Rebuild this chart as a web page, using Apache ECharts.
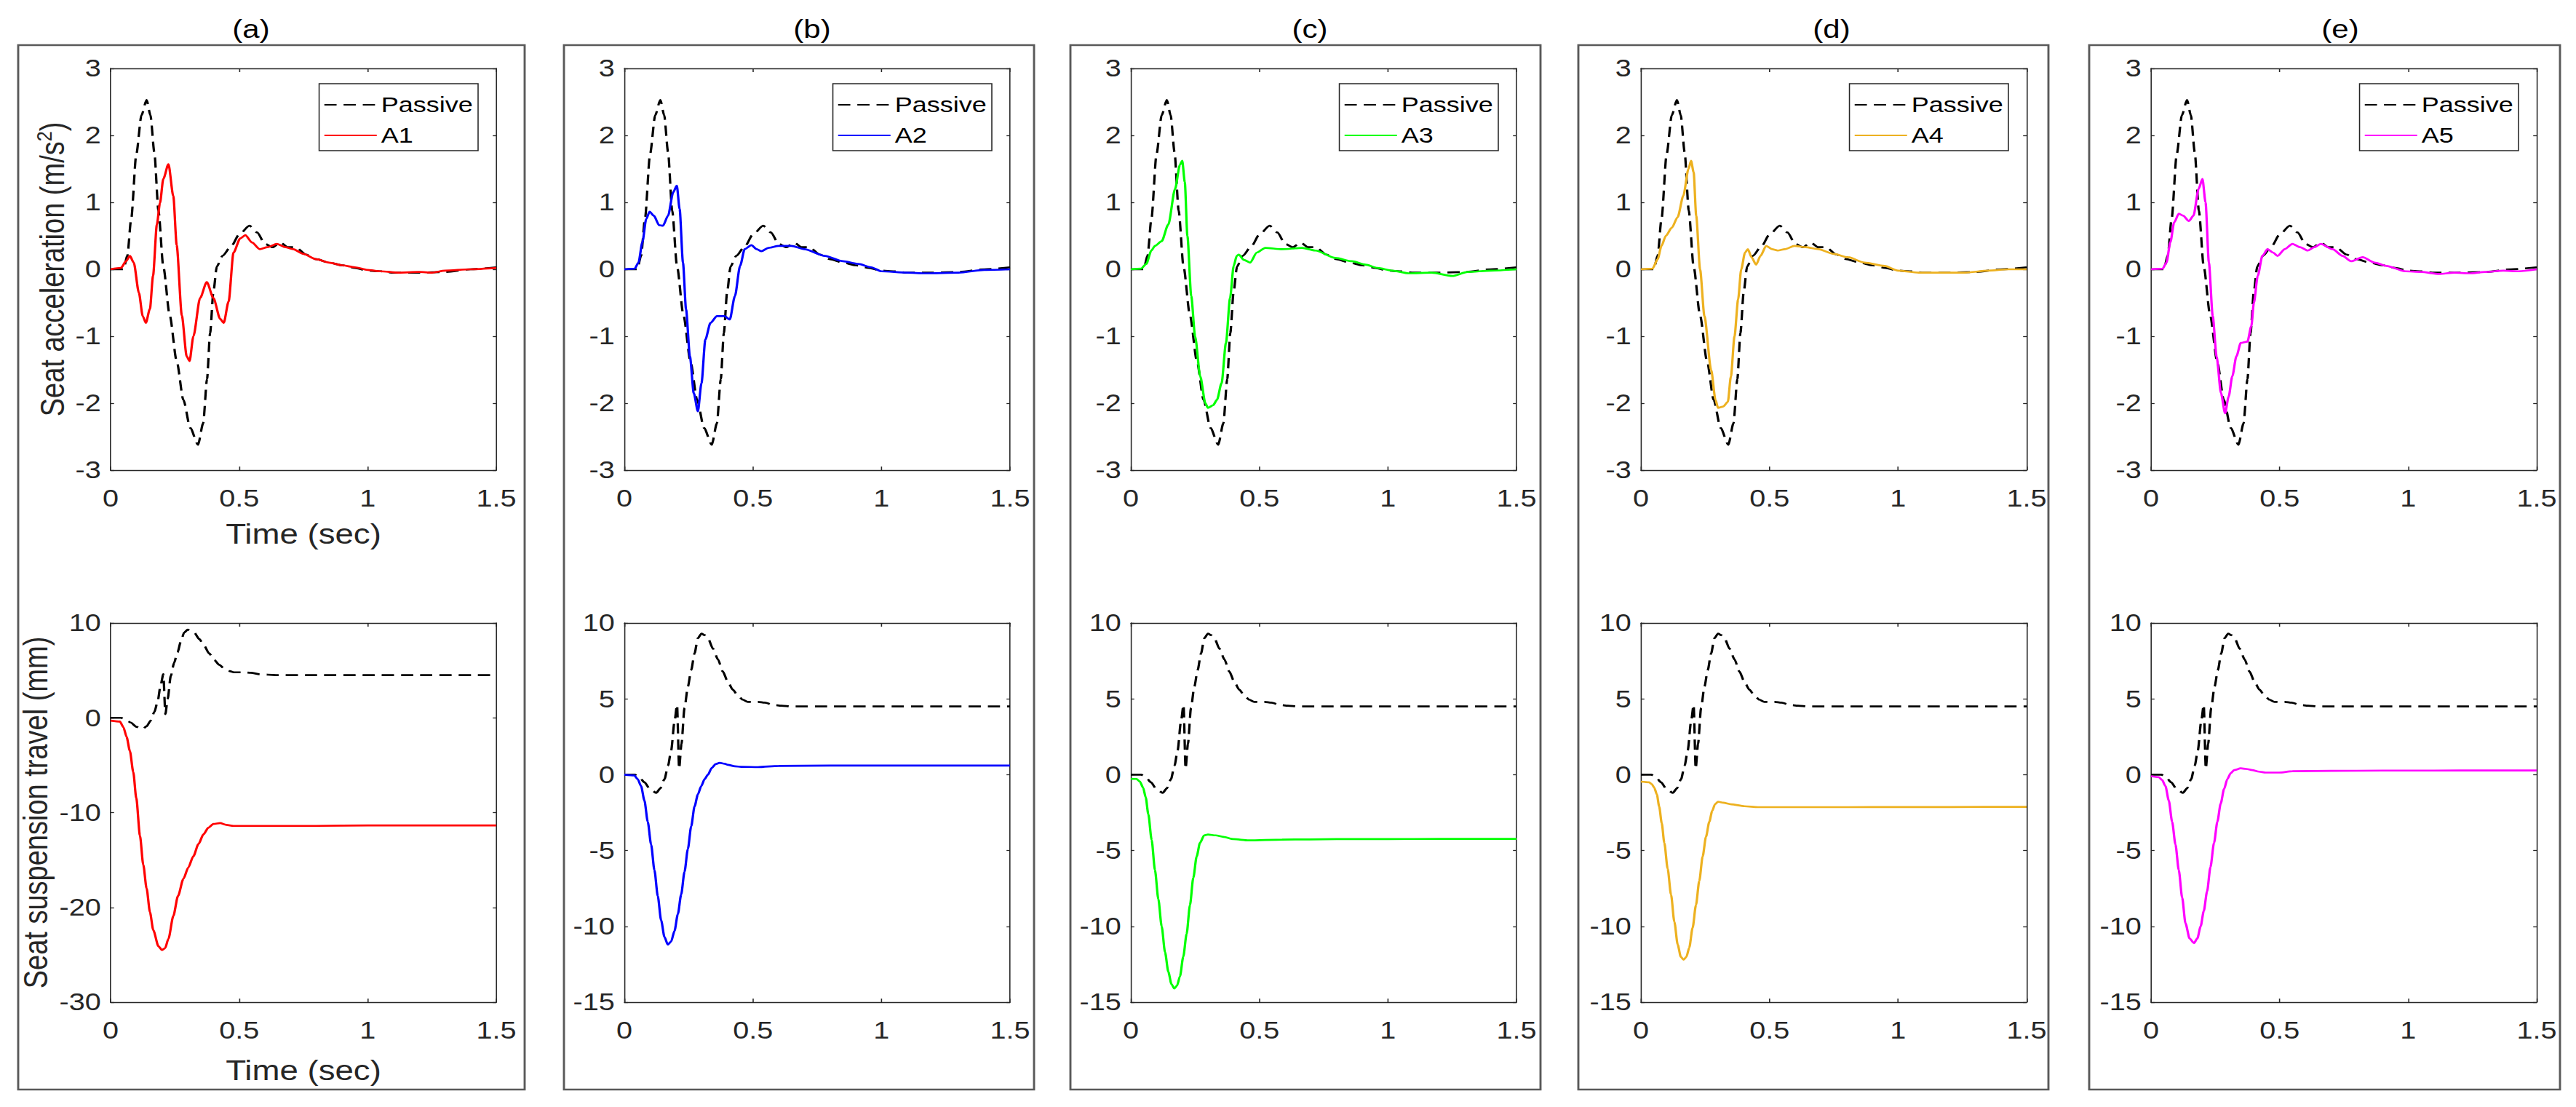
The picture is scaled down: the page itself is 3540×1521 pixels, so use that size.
<!DOCTYPE html>
<html>
<head>
<meta charset="utf-8">
<script src="https://cdn.jsdelivr.net/npm/echarts@6/dist/echarts.min.js"></script>
<style>
    html, body { margin: 0; padding: 0; background: #fff; overflow: hidden; }
    #main { height: 1521px; transform-origin: 0 0; }
</style>
</head>
<body>
<div id="main"></div>
<script>
/* ---- data: [time (s), value] ---- */
var panelTitles = ['(a)', '(b)', '(c)', '(d)', '(e)'],
    activeNames = ['A1', 'A2', 'A3', 'A4', 'A5'],
    activeColors = ['#ff0000', '#0000ff', '#00ff00', '#edb120', '#ff00ff'],
    timeRange = [0, 1.5, 0.5],
    accelRange = [-3, 3, 1],
    travelRanges = [[-30, 10, 10], [-15, 10, 5], [-15, 10, 5], [-15, 10, 5], [-15, 10, 5]];

var passiveAccel = [[0,0],[0.05,0],[0.065,0.2],[0.08,0.75],[0.1,1.72],[0.12,2.3],[0.14,2.53],[0.155,2.3],[0.17,1.75],[0.186,0.88],[0.205,0.04],[0.23,-0.69],[0.257,-1.37],[0.283,-1.95],[0.31,-2.37],[0.34,-2.62],[0.36,-2.3],[0.375,-1.64],[0.387,-0.95],[0.4,-0.33],[0.413,0.04],[0.435,0.2],[0.47,0.35],[0.5,0.52],[0.54,0.65],[0.57,0.55],[0.6,0.38],[0.63,0.33],[0.66,0.4],[0.69,0.33],[0.72,0.33],[0.76,0.22],[0.8,0.15],[0.85,0.1],[0.9,0.06],[0.95,0.02],[1.0,-0.02],[1.05,-0.03],[1.1,-0.05],[1.2,-0.05],[1.3,-0.04],[1.4,0.0],[1.5,0.03]];

var accelA1 = [[0,0],[0.04,0.02],[0.06,0.12],[0.075,0.2],[0.09,0.1],[0.11,-0.35],[0.125,-0.7],[0.137,-0.8],[0.153,-0.59],[0.165,-0.1],[0.18,0.67],[0.192,0.99],[0.205,1.35],[0.225,1.57],[0.244,1.09],[0.257,0.36],[0.277,-0.69],[0.296,-1.3],[0.307,-1.37],[0.322,-1.0],[0.348,-0.43],[0.374,-0.19],[0.4,-0.43],[0.426,-0.74],[0.44,-0.8],[0.459,-0.48],[0.478,0.25],[0.504,0.46],[0.524,0.51],[0.55,0.4],[0.58,0.3],[0.61,0.33],[0.647,0.38],[0.68,0.33],[0.71,0.3],[0.75,0.23],[0.8,0.15],[0.85,0.1],[0.9,0.06],[0.95,0.03],[1.0,-0.01],[1.05,-0.03],[1.12,-0.05],[1.2,-0.04],[1.25,-0.05],[1.3,-0.02],[1.4,0.0],[1.5,0.02]];

var accelA2 = [[0,0],[0.04,0.01],[0.055,0.1],[0.07,0.4],[0.085,0.75],[0.098,0.86],[0.115,0.8],[0.135,0.66],[0.15,0.65],[0.17,0.8],[0.19,1.15],[0.204,1.25],[0.215,0.9],[0.228,0.1],[0.24,-0.6],[0.255,-1.3],[0.27,-1.85],[0.286,-2.12],[0.3,-1.7],[0.315,-1.05],[0.335,-0.8],[0.36,-0.7],[0.39,-0.7],[0.41,-0.75],[0.43,-0.4],[0.45,0.05],[0.468,0.3],[0.494,0.36],[0.515,0.3],[0.533,0.27],[0.56,0.32],[0.6,0.35],[0.65,0.35],[0.7,0.3],[0.78,0.2],[0.85,0.12],[0.91,0.08],[0.96,0.03],[1.0,-0.03],[1.1,-0.05],[1.17,-0.06],[1.3,-0.05],[1.4,-0.01],[1.5,0.0]];

var accelA3 = [[0,0],[0.04,0.01],[0.06,0.08],[0.08,0.28],[0.094,0.35],[0.12,0.42],[0.146,0.67],[0.172,1.2],[0.191,1.56],[0.2,1.62],[0.21,1.3],[0.22,0.5],[0.235,-0.4],[0.25,-1.0],[0.27,-1.6],[0.29,-2.0],[0.3,-2.07],[0.32,-2.03],[0.335,-1.95],[0.353,-1.7],[0.37,-1.1],[0.386,-0.43],[0.4,0.05],[0.412,0.2],[0.42,0.22],[0.44,0.14],[0.464,0.1],[0.49,0.25],[0.523,0.32],[0.588,0.3],[0.666,0.32],[0.718,0.28],[0.796,0.17],[0.86,0.12],[0.913,0.07],[0.96,0.02],[1.017,-0.02],[1.08,-0.06],[1.17,-0.05],[1.25,-0.1],[1.31,-0.04],[1.4,-0.02],[1.5,0.0]];

var accelA4 = [[0,0],[0.045,0.01],[0.065,0.15],[0.08,0.35],[0.097,0.5],[0.12,0.62],[0.143,0.78],[0.165,1.1],[0.185,1.5],[0.195,1.62],[0.205,1.45],[0.215,0.8],[0.23,0.0],[0.247,-0.7],[0.273,-1.5],[0.29,-1.95],[0.3,-2.07],[0.32,-2.05],[0.338,-1.98],[0.35,-1.6],[0.364,-1.0],[0.378,-0.45],[0.39,0.0],[0.405,0.25],[0.416,0.3],[0.43,0.18],[0.448,0.07],[0.465,0.2],[0.487,0.35],[0.51,0.3],[0.532,0.28],[0.56,0.3],[0.597,0.35],[0.64,0.33],[0.69,0.3],[0.75,0.23],[0.805,0.18],[0.87,0.1],[0.948,0.05],[1.0,-0.02],[1.08,-0.05],[1.17,-0.05],[1.26,-0.05],[1.35,-0.02],[1.43,0.0],[1.5,0.0]];

var accelA5 = [[0,0],[0.045,0.01],[0.06,0.1],[0.075,0.4],[0.09,0.7],[0.108,0.83],[0.125,0.8],[0.147,0.72],[0.165,0.8],[0.185,1.2],[0.2,1.35],[0.212,1.0],[0.225,0.1],[0.24,-0.7],[0.255,-1.3],[0.272,-1.85],[0.288,-2.15],[0.302,-1.9],[0.316,-1.6],[0.332,-1.3],[0.349,-1.1],[0.375,-1.08],[0.39,-0.85],[0.4,-0.5],[0.415,-0.1],[0.433,0.2],[0.453,0.3],[0.475,0.25],[0.492,0.2],[0.52,0.3],[0.55,0.38],[0.58,0.33],[0.609,0.28],[0.635,0.33],[0.66,0.38],[0.706,0.3],[0.745,0.2],[0.778,0.12],[0.823,0.18],[0.87,0.1],[0.915,0.05],[0.99,-0.03],[1.05,-0.04],[1.12,-0.07],[1.18,-0.05],[1.24,-0.06],[1.3,-0.04],[1.37,-0.02],[1.43,-0.03],[1.5,0.0]];

var passiveTravel = [[0,0],[0.04,0],[0.06,-0.2],[0.078,-0.5],[0.1,-0.95],[0.124,-1.2],[0.14,-0.9],[0.156,-0.3],[0.17,0.6],[0.182,1.6],[0.195,3.5],[0.205,4.6],[0.213,0.4],[0.222,2.0],[0.234,4.4],[0.247,5.8],[0.26,6.9],[0.273,8.0],[0.286,9.0],[0.3,9.3],[0.312,9.2],[0.325,9.0],[0.345,8.3],[0.364,7.6],[0.383,6.8],[0.403,6.1],[0.422,5.6],[0.442,5.2],[0.46,4.95],[0.48,4.8],[0.52,4.8],[0.546,4.75],[0.58,4.6],[0.611,4.55],[0.65,4.5],[0.8,4.5],[1.0,4.5],[1.2,4.5],[1.5,4.5]];

var travelA1 = [[0,-0.3],[0.036,-0.4],[0.05,-1.0],[0.062,-2.0],[0.075,-3.5],[0.088,-5.7],[0.1,-8.5],[0.114,-12.4],[0.127,-15.5],[0.14,-18],[0.153,-20.5],[0.166,-22.4],[0.186,-24.1],[0.2,-24.5],[0.212,-24.3],[0.225,-23.3],[0.244,-20.9],[0.262,-18.8],[0.283,-17.0],[0.302,-15.8],[0.322,-14.6],[0.342,-13.3],[0.361,-12.3],[0.38,-11.6],[0.4,-11.2],[0.426,-11.1],[0.45,-11.3],[0.478,-11.4],[0.6,-11.4],[0.8,-11.4],[1.0,-11.35],[1.2,-11.35],[1.5,-11.35]];

var travelA2 = [[0,0],[0.039,-0.05],[0.052,-0.3],[0.065,-0.75],[0.078,-1.7],[0.091,-3.1],[0.104,-4.6],[0.117,-6.3],[0.13,-8.0],[0.143,-9.6],[0.156,-10.7],[0.169,-11.2],[0.182,-11.0],[0.195,-10.3],[0.208,-9.2],[0.221,-7.9],[0.234,-6.4],[0.247,-4.9],[0.26,-3.4],[0.273,-2.1],[0.286,-1.3],[0.299,-0.75],[0.312,-0.3],[0.325,0.0],[0.34,0.45],[0.355,0.7],[0.371,0.78],[0.39,0.72],[0.403,0.65],[0.43,0.55],[0.455,0.52],[0.52,0.5],[0.6,0.58],[0.8,0.6],[1.0,0.6],[1.2,0.6],[1.5,0.6]];

var travelA3 = [[0,-0.28],[0.022,-0.28],[0.035,-0.45],[0.048,-0.86],[0.058,-1.5],[0.068,-2.6],[0.081,-4.3],[0.094,-6.3],[0.107,-8.2],[0.12,-10.0],[0.133,-11.7],[0.146,-13.0],[0.158,-13.8],[0.169,-14.1],[0.18,-13.9],[0.191,-13.3],[0.204,-12.0],[0.217,-10.5],[0.23,-8.6],[0.243,-6.8],[0.256,-5.4],[0.269,-4.5],[0.285,-4.0],[0.3,-3.95],[0.33,-4.0],[0.36,-4.1],[0.4,-4.25],[0.458,-4.33],[0.588,-4.28],[0.8,-4.25],[1.0,-4.25],[1.2,-4.23],[1.5,-4.23]];

var travelA4 = [[0,-0.46],[0.032,-0.5],[0.042,-0.62],[0.052,-0.86],[0.062,-1.3],[0.071,-2.1],[0.081,-3.2],[0.091,-4.5],[0.104,-6.2],[0.117,-7.9],[0.13,-9.7],[0.143,-11.2],[0.155,-12.0],[0.166,-12.2],[0.177,-12.0],[0.188,-11.4],[0.201,-10.1],[0.214,-8.6],[0.227,-7.0],[0.24,-5.4],[0.253,-4.1],[0.266,-3.1],[0.277,-2.4],[0.288,-1.95],[0.3,-1.78],[0.32,-1.85],[0.351,-1.95],[0.403,-2.08],[0.455,-2.14],[0.6,-2.14],[0.8,-2.14],[1.0,-2.13],[1.2,-2.13],[1.5,-2.12]];

var travelA5 = [[0,-0.1],[0.03,-0.16],[0.043,-0.35],[0.056,-0.75],[0.069,-1.7],[0.082,-3.1],[0.095,-4.6],[0.108,-6.3],[0.121,-8.1],[0.134,-9.8],[0.15,-10.8],[0.167,-11.1],[0.18,-10.8],[0.193,-10.0],[0.205,-9.0],[0.218,-7.7],[0.231,-6.1],[0.245,-4.5],[0.258,-3.1],[0.271,-1.9],[0.284,-0.95],[0.297,-0.28],[0.31,0.1],[0.323,0.3],[0.349,0.42],[0.37,0.38],[0.394,0.3],[0.42,0.2],[0.446,0.14],[0.498,0.14],[0.55,0.23],[0.7,0.25],[0.9,0.27],[1.1,0.27],[1.3,0.28],[1.5,0.28]];

var accelData = [accelA1, accelA2, accelA3, accelA4, accelA5],
    travelData = [travelA1, travelA2, travelA3, travelA4, travelA5];

/* ---- layout, in picture pixels; the page is drawn narrower and stretched by SX ---- */
var SX = 1.2,
    CW = 3540 / SX,
    FONT = '"Liberation Sans", Arial, Helvetica, sans-serif',
    INK = '#262626',
    plotLeft = [152, 858, 1554, 2255, 2956],
    plotWidth = 530,
    accTop = 94, accHeight = 552,
    travTop = 856, travHeight = 521,
    boxes = [[25, 721], [775, 1421], [1471, 2117], [2169, 2815], [2871, 3518]],
    titleX = [345, 1116, 1800, 2517, 3216];

function px(x) {
    return x / SX;
}

function makeAxis(g, pos, range, labels, name, nameGap) {
    var horiz = (pos === 'bottom' || pos === 'top');
    return {
        type: 'value',
        gridIndex: g,
        position: pos,
        min: range[0],
        max: range[1],
        interval: range[2],
        axisLine: {show: true, onZero: false, lineStyle: {color: INK, width: 1.3}},
        axisTick: {show: true, inside: true, length: horiz ? 5 : 4, lineStyle: {color: INK, width: 1.3}},
        axisLabel: {
            show: labels,
            margin: horiz ? 22 : 11,
            fontSize: 33,
            color: INK,
            fontFamily: FONT,
            showMinLabel: true,
            showMaxLabel: true
        },
        splitLine: {show: false},
        name: name || '',
        nameLocation: 'middle',
        nameGap: nameGap || 0,
        nameTextStyle: {
            fontSize: 38,
            color: INK,
            fontFamily: FONT,
            lineHeight: 44,
            rich: {
                sup: {fontSize: 25, lineHeight: 25, verticalAlign: 'top', color: INK, fontFamily: FONT}
            }
        }
    };
}

var grids = [], xAxes = [], yAxes = [], series = [], legends = [], graphics = [];

for (var i = 0; i < 5; i++) {
    for (var r = 0; r < 2; r++) {
        var g = grids.length;
        grids.push({
            left: px(plotLeft[i]),
            width: px(plotWidth),
            top: r ? travTop : accTop,
            height: r ? travHeight : accHeight,
            containLabel: false,
            outerBoundsMode: 'none'
        });
        var yRange = r ? travelRanges[i] : accelRange,
            xName = (i === 0) ? 'Time (sec)' : '',
            yName = '';
        if (i === 0) {
            yName = r ? 'Seat suspension travel (mm)' : 'Seat acceleration (m/s{sup|2})';
        }
        xAxes.push(makeAxis(g, 'bottom', timeRange, true, xName, r ? 72 : 66));
        xAxes.push(makeAxis(g, 'top', timeRange, false));
        yAxes.push(makeAxis(g, 'left', yRange, true, yName, r ? 64 : 42));
        yAxes.push(makeAxis(g, 'right', yRange, false));

        series.push({
            type: 'line',
            name: 'Passive',
            xAxisIndex: 2 * g,
            yAxisIndex: 2 * g,
            data: r ? passiveTravel : passiveAccel,
            symbol: 'none',
            smooth: 0.25,
            smoothMonotone: 'x',
            silent: true,
            z: 2,
            itemStyle: {color: '#000'},
            lineStyle: {color: '#000', width: 2.7, type: [14, 8]}
        });
        series.push({
            type: 'line',
            name: activeNames[i],
            xAxisIndex: 2 * g,
            yAxisIndex: 2 * g,
            data: r ? travelData[i] : accelData[i],
            symbol: 'none',
            smooth: 0.25,
            smoothMonotone: 'x',
            silent: true,
            z: 3,
            itemStyle: {color: activeColors[i]},
            lineStyle: {color: activeColors[i], width: 2.7, type: 'solid'}
        });
    }

    legends.push({
        orient: 'vertical',
        right: CW - px(plotLeft[i] + plotWidth - 25),
        top: 115,
        data: ['Passive', activeNames[i]],
        selectedMode: false,
        itemWidth: 60,
        itemHeight: 28,
        itemGap: 12,
        padding: [14, 6, 6, 5],
        borderColor: INK,
        borderWidth: 1.3,
        borderRadius: 0,
        backgroundColor: '#fff',
        itemStyle: {opacity: 0, borderWidth: 0},
        textStyle: {fontSize: 30, color: '#000', fontFamily: FONT}
    });

    graphics.push({
        type: 'rect',
        silent: true,
        shape: {x: px(boxes[i][0]), y: 62, width: px(boxes[i][1] - boxes[i][0]), height: 1435},
        style: {fill: 'none', stroke: '#595959', lineWidth: 2.4}
    });
    graphics.push({
        type: 'text',
        silent: true,
        x: px(titleX[i]),
        y: 40,
        style: {
            text: panelTitles[i],
            font: '35px "Liberation Sans", Arial, sans-serif',
            fontSize: 35,
            fontFamily: FONT,
            fill: '#000',
            textAlign: 'center',
            textVerticalAlign: 'middle',
            align: 'center',
            verticalAlign: 'middle'
        }
    });
}

var box = document.getElementById('main');
box.style.width = CW + 'px';
box.style.transform = 'scaleX(' + SX + ')';

var myChart = echarts.init(box, null, {renderer: 'svg'});
myChart.setOption({
    animation: false,
    backgroundColor: '#fff',
    grid: grids,
    xAxis: xAxes,
    yAxis: yAxes,
    legend: legends,
    graphic: graphics,
    series: series
});
</script>
</body>
</html>
